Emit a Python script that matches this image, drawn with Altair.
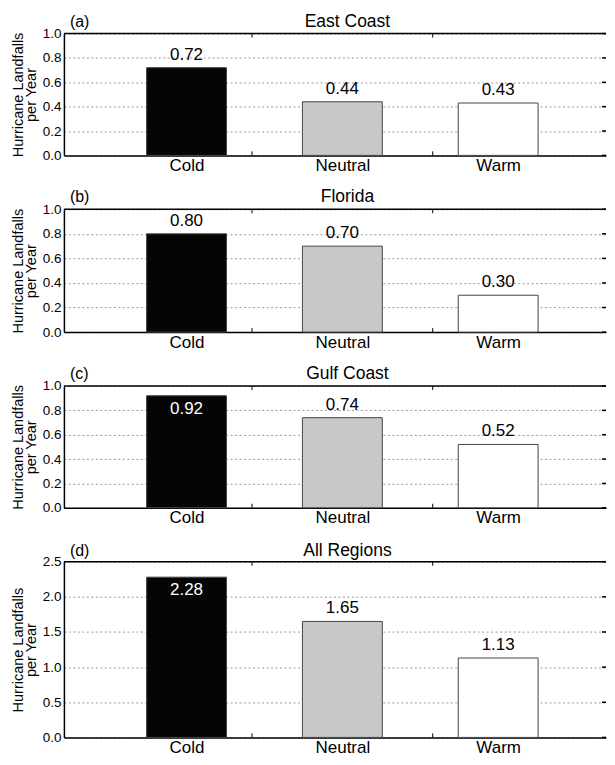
import altair as alt
import pandas as pd

categories = ["Cold", "Neutral", "Warm"]
cat_index = [1, 2, 3]
bar_fills = ["#050505", "#c8c8c8", "#ffffff"]

east_coast = [0.72, 0.44, 0.43]
florida = [0.80, 0.70, 0.30]
gulf_coast = [0.92, 0.74, 0.52]
all_regions = [2.28, 1.65, 1.13]

panel_letters = ["(a)", "(b)", "(c)", "(d)"]
panel_titles = ["East Coast", "Florida", "Gulf Coast", "All Regions"]
ticks_small = [0.0, 0.2, 0.4, 0.6, 0.8, 1.0]
ticks_large = [0.0, 0.5, 1.0, 1.5, 2.0, 2.5]
minor_x = [1.42, 2.58]

FONT = "Liberation Sans"
W = 543
X_DOMAIN = [0.245, 3.66]

label_expr = "[''," + ",".join(f"'{c}'" for c in categories) + "][datum.value]"


def panel(vals, letter, title, ticks, height, title_y):
    ymax = ticks[-1]
    df = pd.DataFrame({"idx": cat_index, "cat": categories, "value": vals, "fill": bar_fills})
    df["inside"] = df["value"] / ymax > 0.85
    df["txt"] = [f"{v:.2f}" for v in vals]
    xs = alt.Scale(domain=X_DOMAIN, nice=False, zero=False)
    ys = alt.Scale(domain=[0, ymax], nice=False)
    xaxis = alt.Axis(
        values=cat_index, labelExpr=label_expr, grid=False, title=None,
        tickSize=0, domainColor="black", domainWidth=1.5,
        labelFontSize=17, labelColor="black", labelFont=FONT, labelPadding=2)
    yaxis = alt.Axis(
        values=ticks, format=".1f", grid=True, gridDash=[2, 2.5], gridColor="#999999",
        gridWidth=1, tickSize=0, domainColor="black", domainWidth=1.5,
        labelFontSize=13.5, labelColor="black", labelFont=FONT, labelPadding=3,
        title=["Hurricane Landfalls", "per Year"], titleFont=FONT, titleFontSize=14.5,
        titleFontWeight="normal", titleColor="black", titleLineHeight=13,
        titlePadding=4)
    X = alt.X("idx:Q", scale=xs, axis=xaxis)
    Y = alt.Y("value:Q", scale=ys, axis=yaxis)
    base = alt.Chart(df)
    bars = base.mark_bar(width=80, stroke="#444444", strokeWidth=1).encode(
        x=X, y=Y, fill=alt.Fill("fill:N", scale=None))
    out_txt = base.transform_filter("!datum.inside").mark_text(
        baseline="bottom", dy=-4, fontSize=17, font=FONT, color="black").encode(
        x=X, y=Y, text="txt:N")
    in_txt = base.transform_filter("datum.inside").mark_text(
        baseline="top", dy=5, fontSize=17, font=FONT, color="white").encode(
        x=X, y=Y, text="txt:N")
    tdf = pd.DataFrame({"value": ticks})
    right_ticks = alt.Chart(tdf).mark_rule(color="black", strokeWidth=1.5).encode(
        x=alt.value(W - 4), x2=alt.value(W), y=Y)
    top_line = alt.Chart(pd.DataFrame({"a": [0]})).mark_rule(color="black", strokeWidth=1.5).encode(
        x=alt.value(0), x2=alt.value(W), y=alt.value(0))
    mdf = pd.DataFrame({"idx": minor_x})
    minor_top = alt.Chart(mdf).mark_rule(color="black", strokeWidth=1).encode(
        x=X, y=alt.value(0), y2=alt.value(4))
    minor_bot = alt.Chart(mdf).mark_rule(color="black", strokeWidth=1).encode(
        x=X, y=alt.value(height - 4), y2=alt.value(height))
    tx = pd.DataFrame({"l": [letter], "t": [title]})
    letter_txt = alt.Chart(tx).mark_text(
        align="left", baseline="alphabetic", fontSize=16, font=FONT, color="black").encode(
        x=alt.value(6), y=alt.value(title_y), text="l:N")
    title_txt = alt.Chart(tx).mark_text(
        align="center", baseline="alphabetic", fontSize=17.5, font=FONT, color="black").encode(
        x=alt.value(284), y=alt.value(title_y), text="t:N")
    return alt.layer(bars, out_txt, in_txt, right_ticks, top_line, minor_top, minor_bot,
                     letter_txt, title_txt).properties(width=W, height=height)


chart = alt.vconcat(
    panel(east_coast, panel_letters[0], panel_titles[0], ticks_small, 122, -7),
    panel(florida, panel_letters[1], panel_titles[1], ticks_small, 123, -7),
    panel(gulf_coast, panel_letters[2], panel_titles[2], ticks_small, 122, -7),
    panel(all_regions, panel_letters[3], panel_titles[3], ticks_large, 176, -6),
    spacing=54, bounds="flush",
).configure_view(stroke=None).properties(padding={"left": 2, "top": 4, "right": 0, "bottom": 0})

chart.save("out.html", embed_options={"renderer": "svg", "actions": False})
